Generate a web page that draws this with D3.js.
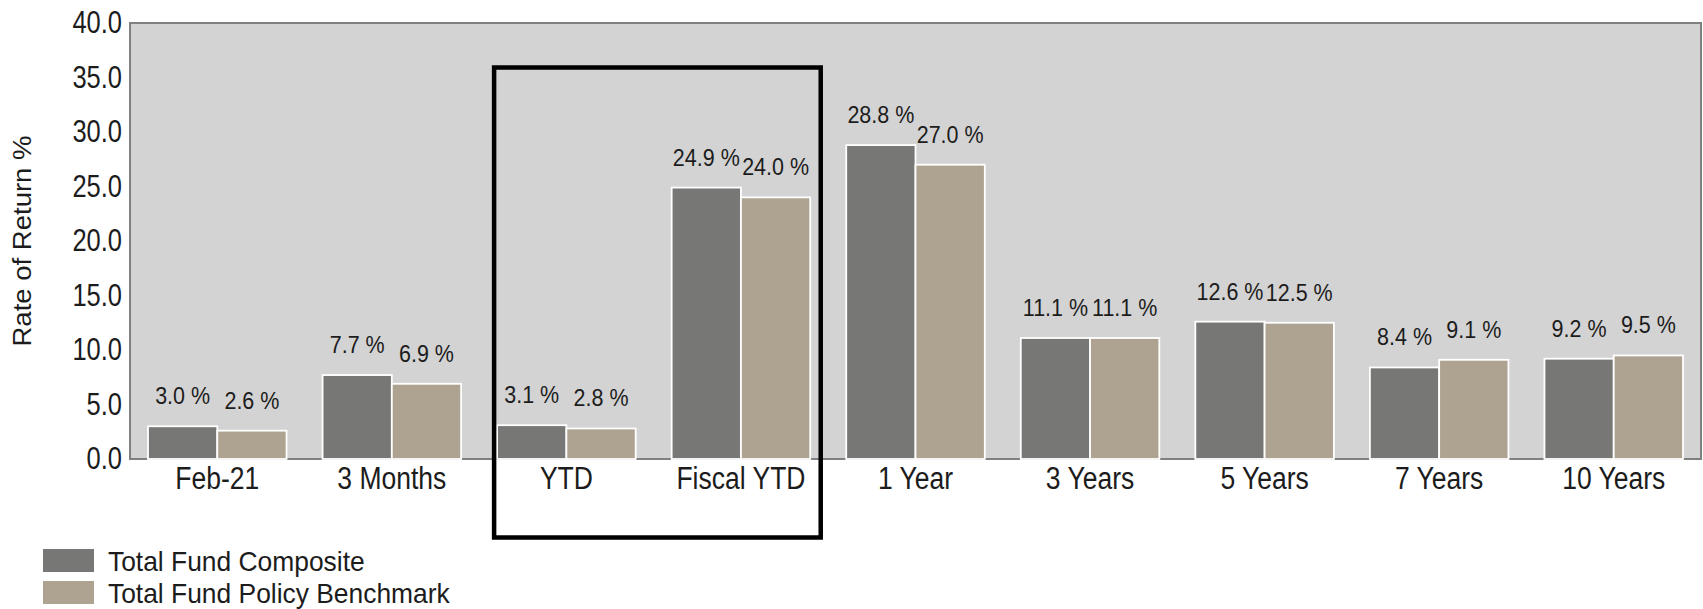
<!DOCTYPE html>
<html>
<head>
<meta charset="utf-8">
<script src="https://cdn.jsdelivr.net/npm/d3@7"></script>
<style>
  body { margin: 0; background: #ffffff; }
  svg { display: block; font-family: "Liberation Sans", Arial, sans-serif; }
</style>
</head>
<body>
<svg id="chart" width="1703" height="609"></svg>
<script>
// Periods on the category axis
const categories = ["Feb-21", "3 Months", "YTD", "Fiscal YTD", "1 Year", "3 Years", "5 Years", "7 Years", "10 Years"];
// Series names
const seriesNames = ["Total Fund Composite", "Total Fund Policy Benchmark"];
// Rate of return (%) per period
const compositeValues = [3.0, 7.7, 3.1, 24.9, 28.8, 11.1, 12.6, 8.4, 9.2];
const benchmarkValues = [2.6, 6.9, 2.8, 24.0, 27.0, 11.1, 12.5, 9.1, 9.5];
// Y-axis ticks
const yTicks = [0, 5, 10, 15, 20, 25, 30, 35, 40];
// Periods enclosed by the highlight frame
const highlighted = ["YTD", "Fiscal YTD"];

const seriesColors = ["#777776", "#aea290"];
const seriesValues = [compositeValues, benchmarkValues];

const svg = d3.select("#chart");
const plot = { left: 130, right: 1701, top: 23, bottom: 459 };
const textColor = "#1c1c1c";

const x0 = d3.scaleBand().domain(categories).range([plot.left, plot.right]).padding(0);
const x1 = d3.scaleBand().domain(seriesNames).range([18, x0.step() - 18]).padding(0);
const y = d3.scaleLinear().domain([0, 40]).range([plot.bottom, plot.top]);

// Plot background
svg.append("rect")
  .attr("x", plot.left).attr("y", plot.top)
  .attr("width", plot.right - plot.left).attr("height", plot.bottom - plot.top)
  .attr("fill", "#d3d3d3")
  .attr("stroke", "#808080").attr("stroke-width", 2);

// Bars
const rows = categories.map((c, i) => ({
  category: c,
  values: seriesNames.map((s, j) => ({ series: s, idx: j, value: seriesValues[j][i] }))
}));

const groups = svg.append("g").selectAll("g")
  .data(rows).join("g")
  .attr("transform", d => `translate(${x0(d.category)},0)`);

groups.selectAll("rect")
  .data(d => d.values).join("rect")
  .attr("x", d => x1(d.series))
  .attr("y", d => y(d.value))
  .attr("width", x1.bandwidth())
  .attr("height", d => y(0) - y(d.value))
  .attr("fill", d => seriesColors[d.idx])
  .attr("stroke", "#ffffff")
  .attr("stroke-width", 1.8);

// Value labels
groups.selectAll("g.lbl")
  .data(d => d.values).join("g")
  .attr("class", "lbl")
  .attr("transform", d => `translate(${x1(d.series) + x1.bandwidth() / 2},${y(d.value) - 22}) scale(1,1.12)`)
  .append("text")
  .attr("text-anchor", "middle")
  .attr("font-size", 21.5)
  .attr("fill", textColor)
  .text(d => d3.format(".1f")(d.value) + " %");

// Y axis
const yAxis = svg.append("g")
  .attr("transform", `translate(${plot.left},0)`)
  .call(d3.axisLeft(y).tickValues(yTicks).tickFormat(d3.format(".1f")).tickSize(0).tickPadding(8));
yAxis.select(".domain").remove();
yAxis.selectAll("text")
  .attr("font-size", 25.5)
  .attr("font-family", "'Liberation Sans', Arial, sans-serif")
  .attr("fill", textColor)
  .attr("transform", "scale(1,1.2)");

// X axis
const xAxis = svg.append("g")
  .attr("transform", `translate(0,${plot.bottom})`)
  .call(d3.axisBottom(x0).tickSize(0).tickPadding(6));
xAxis.select(".domain").remove();
xAxis.selectAll("text")
  .attr("font-size", 26.5)
  .attr("font-family", "'Liberation Sans', Arial, sans-serif")
  .attr("fill", textColor)
  .attr("transform", "scale(1,1.2)");

// Y axis title
svg.append("text")
  .attr("transform", `translate(31,${(plot.top + plot.bottom) / 2}) rotate(-90) scale(1.08,1)`)
  .attr("text-anchor", "middle")
  .attr("font-size", 25.5)
  .attr("fill", textColor)
  .text("Rate of Return %");

// Highlight frame around YTD and Fiscal YTD
const frameLeft = x0(highlighted[0]) + 15;
const frameRight = x0(highlighted[highlighted.length - 1]) + x0.step() - 7.5;
svg.append("rect")
  .attr("x", frameLeft).attr("y", plot.top + 44.5)
  .attr("width", frameRight - frameLeft)
  .attr("height", (plot.bottom + 78.5) - (plot.top + 44.5))
  .attr("fill", "none")
  .attr("stroke", "#000000")
  .attr("stroke-width", 4.5);

// Legend
const legend = svg.append("g").selectAll("g")
  .data(seriesNames).join("g")
  .attr("transform", (d, i) => `translate(43,${549 + i * 32})`);
legend.append("rect")
  .attr("width", 51).attr("height", 23)
  .attr("fill", (d, i) => seriesColors[i]);
legend.append("g")
  .attr("transform", "translate(65,21.5) scale(1,1.06)")
  .append("text")
  .attr("font-size", 26.4)
  .attr("fill", textColor)
  .text(d => d);
</script>
</body>
</html>
